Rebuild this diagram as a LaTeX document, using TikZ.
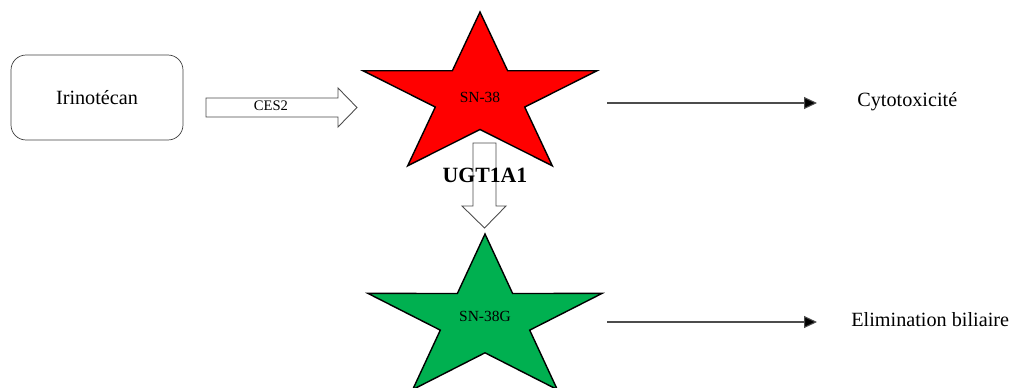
\documentclass[tikz,border=0pt]{standalone}
\usepackage{fontspec}
\setmainfont{Liberation Serif}
\usetikzlibrary{arrows.meta,positioning,calc}

\definecolor{snred}{RGB}{255,0,0}
\definecolor{sngreen}{RGB}{0,176,80}

\begin{document}
\begin{tikzpicture}[
  x=0.02cm, y=0.02cm,
  drug/.style={
    draw=black!75, rectangle, minimum width=3.44cm, minimum height=1.7cm,
    rounded corners=0.3cm, font=\fontsize{11.5}{13}\selectfont
  },
  effect/.style={inner sep=0pt, anchor=west, font=\fontsize{11.5}{13}\selectfont},
  metab/.style={inner sep=0pt, font=\fontsize{8.8}{10}\selectfont},
  enzyme/.style={inner sep=0pt, font=\fontsize{8.3}{10}\selectfont},
  starline/.style={draw=black, line width=0.8pt, line join=miter},
  blockarrow/.style={draw=black!70, line width=0.5pt, fill=white},
  flow/.style={draw=black!70, line width=0.6pt,
    -{Triangle[length=0.26cm, width=0.24cm, fill=black]}}
]
\clip (0,0) rectangle (1011,387);

% Parent drug
\node[drug] (irino) at (97,289.5) {Irinotécan};

% CES2 conversion
\draw[blockarrow] (206,270) -- (338,270) -- (338,260) -- (357,279.5)
  -- (338,299) -- (338,289) -- (206,289) -- cycle;
\node[enzyme] (ces2) at (271,281) {CES2};

% Stars
\coordinate (sn38c) at (480,290);
\coordinate (sn38gc) at (485,67);
\begin{scope}[shift={(sn38c)}]
  \draw[starline, fill=snred] (90:123 and 85)
    \foreach \a/\rx/\ry in {126/47/32.5, 162/123/85, 198/47/32.5, 234/123/85,
      270/47/32.5, 306/123/85, 342/47/32.5, 18/123/85, 54/47/32.5}
    { -- (\a:{\rx} and {\ry}) } -- cycle;
\end{scope}
\begin{scope}[shift={(sn38gc)}]
  \draw[starline, fill=sngreen] (90:123 and 86)
    \foreach \a/\rx/\ry in {126/47/32.8, 162/123/86, 198/47/32.8, 234/123/86,
      270/47/32.8, 306/123/86, 342/47/32.8, 18/123/86, 54/47/32.8}
    { -- (\a:{\rx} and {\ry}) } -- cycle;
\end{scope}
\node[metab] (sn38) at (sn38c) {SN-38};
\node[metab] (sn38g) at (485,71) {SN-38G};

% UGT1A1 glucuronidation
\draw[blockarrow] (473,244) -- (473,181) -- (462,181) -- (484.5,159)
  -- (506,181) -- (496,181) -- (496,244) -- cycle;
\node[inner sep=0pt, font=\fontsize{12.4}{14}\selectfont\bfseries] (ugt) at (485,212) {UGT1A1};

% Effects
\node[effect] (cyto) at (857,285) {Cytotoxicité};
\node[effect] (elim) at (851,67) {Elimination biliaire};
\coordinate (sn38out) at (607,284);
\coordinate (sn38gout) at (607,65);

\draw[flow, shorten >=0.8cm] (sn38out) -- (sn38out -| cyto.west);
\draw[flow, shorten >=0.68cm] (sn38gout) -- (sn38gout -| elim.west);

\end{tikzpicture}
\end{document}
